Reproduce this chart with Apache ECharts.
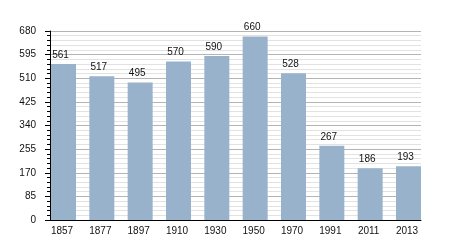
<!DOCTYPE html>
<html><head><meta charset="utf-8">
<script src="https://cdn.jsdelivr.net/npm/echarts@6/dist/echarts.min.js"></script>
<style>html,body{margin:0;padding:0;background:#fff}#c{width:450px;height:250px}</style>
</head><body><div id="c"></div>
<script>
const years = ['1857','1877','1897','1910','1930','1950','1970','1991','2011','2013'];
const population = [561,517,495,570,590,660,528,267,186,193];
const yMin = 0, yMax = 680, yStep = 85;

const font = 'Liberation Sans, Arial, sans-serif';
const chart = echarts.init(document.getElementById('c'), null, {renderer:'canvas'});
chart.setOption({
  animation:false,
  grid:[
    {left:50, right:29, top:31, bottom:30},
    {left:63.5, right:41.5, top:31, bottom:30}
  ],
  xAxis:[
    {gridIndex:0, type:'value', min:0, max:1,
     axisLine:{show:true, lineStyle:{color:'#000', width:1}},
     axisTick:{show:false}, axisLabel:{show:false}, splitLine:{show:false}},
    {gridIndex:1, type:'category', data:years, boundaryGap:false,
     axisLine:{show:false}, axisTick:{show:false}, splitLine:{show:false},
     axisLabel:{color:'#111', fontSize:10, fontFamily:font, margin:6, padding:[0,3,0,0]}}
  ],
  yAxis:[
    {gridIndex:0, type:'value', min:yMin, max:yMax, interval:yStep,
     axisLine:{show:true, lineStyle:{color:'#000', width:1}},
     axisTick:{show:true, length:5, lineStyle:{color:'#000'}},
     minorTick:{show:true, splitNumber:5, length:3, lineStyle:{color:'#000'}},
     splitLine:{show:true, lineStyle:{color:'#b4b4b4', width:1}},
     minorSplitLine:{show:true, lineStyle:{color:'#e2e2e2', width:1}},
     axisLabel:{color:'#111', fontSize:10, fontFamily:font, margin:14}},
    {gridIndex:1, type:'value', min:yMin, max:yMax, interval:yStep, show:false,
     splitLine:{show:false}}
  ],
  series:[
    {type:'scatter', xAxisIndex:0, yAxisIndex:0, data:[], silent:true},
    {type:'bar', xAxisIndex:1, yAxisIndex:1, data:population, barWidth:25,
     itemStyle:{color:'#98b2cc'},
     label:{show:true, position:'top', color:'#111', fontSize:10, fontFamily:font, distance:4, offset:[-3,0]}}
  ]
});
</script></body></html>
